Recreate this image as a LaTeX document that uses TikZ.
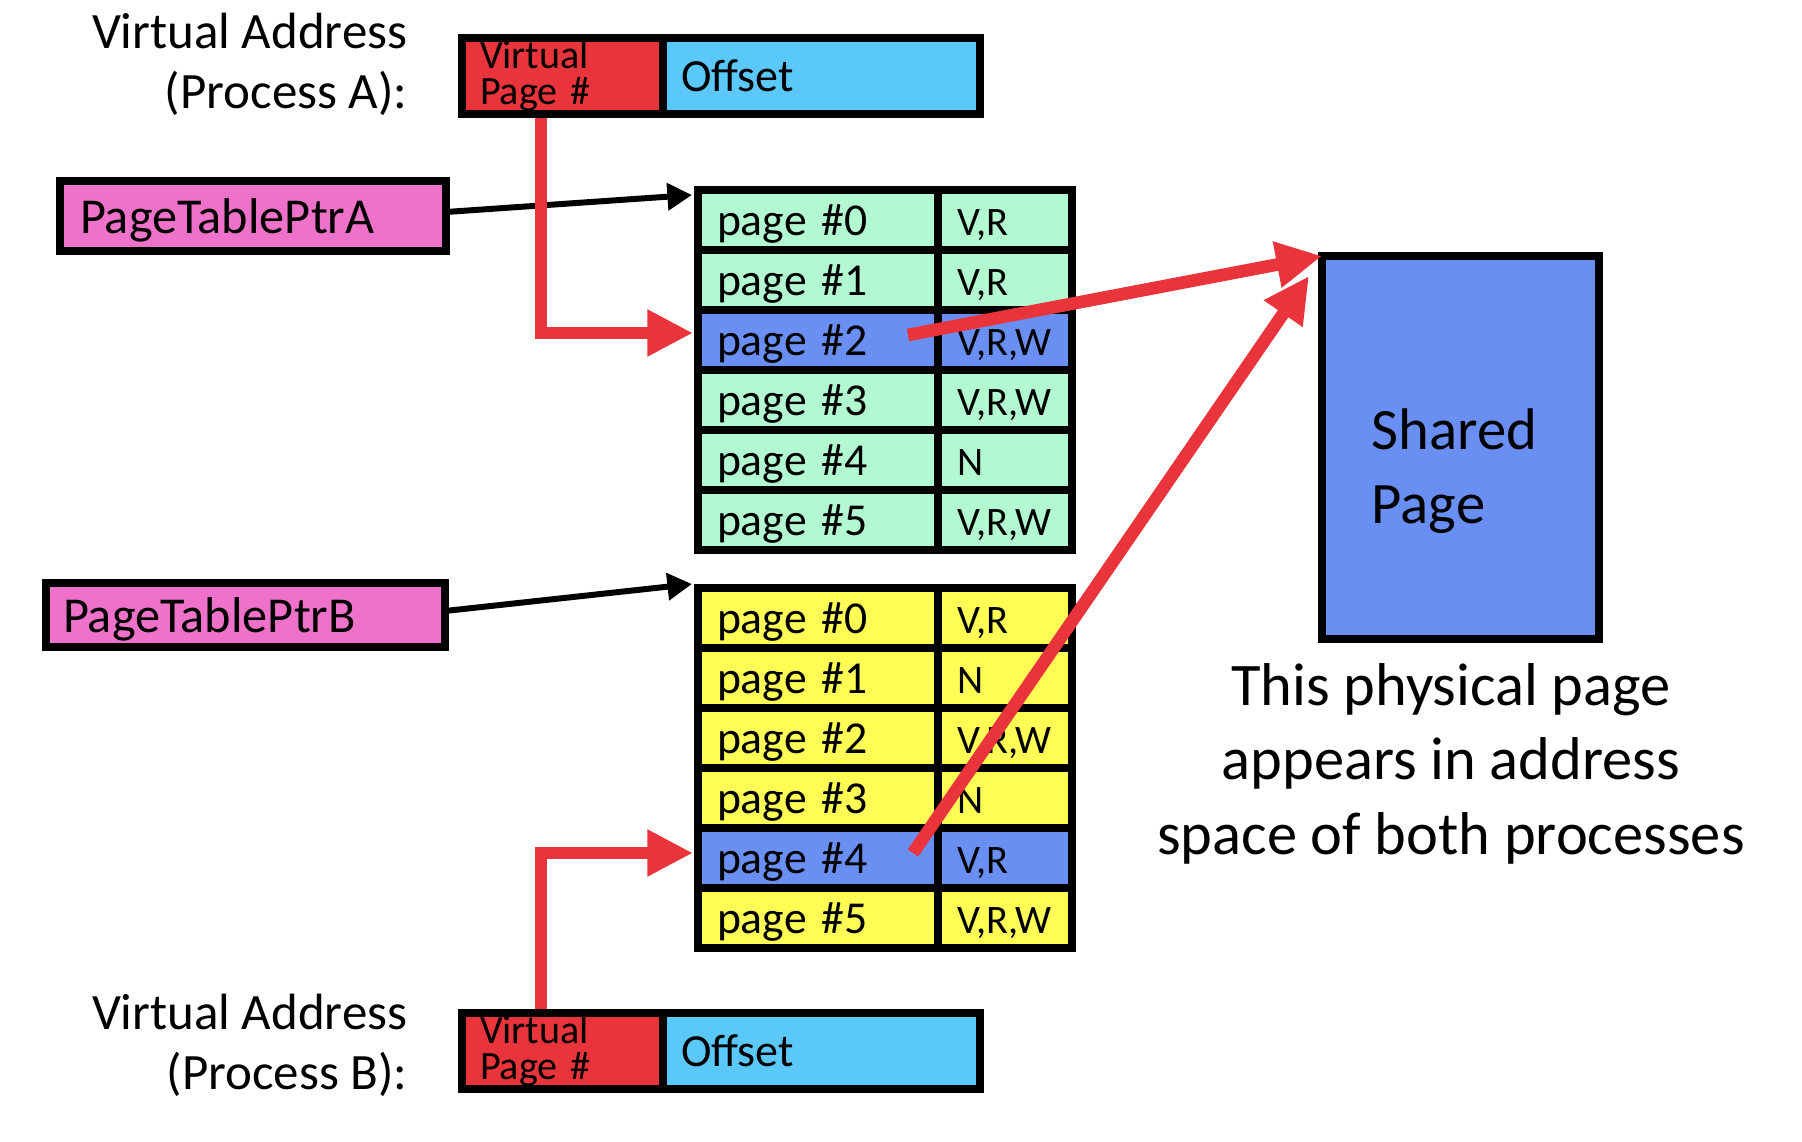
\documentclass[tikz,border=0pt]{standalone}
\usepackage{fontspec}
\setmainfont{Carlito}
\usetikzlibrary{arrows.meta}

\definecolor{vared}{RGB}{232,52,58}
\definecolor{offblue}{RGB}{91,200,250}
\definecolor{ptrpink}{RGB}{238,114,201}
\definecolor{mint}{RGB}{178,249,210}
\definecolor{lemon}{RGB}{255,253,85}
\definecolor{hilite}{RGB}{106,143,242}

\begin{document}
\begin{tikzpicture}[x=0.1mm,y=-0.1mm,
	box/.style={draw,line width=2.1pt,inner sep=0pt,outer sep=0pt},
	cell/.style={box,line width=2pt,minimum height=6mm,align=left,inner xsep=1.9mm,text height=3.5mm,text depth=0.5mm},
	pagecell/.style={cell,minimum width=24mm,text width=20.2mm,font=\fontsize{13}{15}\selectfont},
	flagcell/.style={cell,minimum width=13.4mm,text width=9.6mm,font=\fontsize{11.5}{13}\selectfont},
	ptrbox/.style={box,fill=ptrpink,align=left,text height=4mm,text depth=0.5mm,font=\fontsize{14.3}{17}\selectfont},
	label/.style={inner sep=0pt},
	redarrow/.style={draw=vared,line width=3.6pt,-{Triangle[length=13pt,width=12.5pt]}},
	ptrarrow/.style={line width=1.7pt,-{Triangle[length=7pt,width=7.5pt]}}]
	\useasboundingbox (0,0) rectangle (1802,1142);

	% virtual addresses
	\node[label,anchor=east,align=right,font=\fontsize{14.5}{17}\selectfont] (vaa) at (408,64) {Virtual Address\\(Process A):};
	\node[box,fill=vared,minimum width=20.1mm,minimum height=7.6mm,text width=16.5mm,inner xsep=1.8mm,align=left,font=\fontsize{11.4}{10}\selectfont] (vpa) at (562.5,76) {Virtual\\Page \#};
	\node[box,fill=offblue,anchor=west,minimum width=31.7mm,minimum height=7.6mm,text width=28.1mm,inner xsep=1.8mm,align=left,font=\fontsize{13.1}{15}\selectfont] (offa) at (vpa.east) {Offset};

	\node[label,anchor=east,align=right,font=\fontsize{14.5}{17}\selectfont] (vab) at (408,1045) {Virtual Address\\(Process B):};
	\node[box,fill=vared,minimum width=20.1mm,minimum height=7.6mm,text width=16.5mm,inner xsep=1.8mm,align=left,font=\fontsize{11.4}{10}\selectfont] (vpb) at (562.5,1051) {Virtual\\Page \#};
	\node[box,fill=offblue,anchor=west,minimum width=31.7mm,minimum height=7.6mm,text width=28.1mm,inner xsep=1.8mm,align=left,font=\fontsize{13.1}{15}\selectfont] (offb) at (vpb.east) {Offset};

	% page table pointers
	\node[ptrbox,minimum width=38.6mm,minimum height=7mm,text width=34.6mm,inner xsep=2mm] (pta) at (253,216) {PageTablePtrA};
	\node[ptrbox,minimum width=39.9mm,minimum height=6.4mm,text width=36.5mm,inner xsep=1.7mm] (ptb) at (245.5,615) {PageTablePtrB};

	% page tables
	\foreach \i/\f/\col in {0/{V,R}/mint,1/{V,R}/mint,2/{V,R,W}/hilite,3/{V,R,W}/mint,4/N/mint,5/{V,R,W}/mint}{
		\node[pagecell,fill=\col] (pa\i) at (818,220+60*\i) {page \#\i};
		\node[flagcell,fill=\col] (fa\i) at (1005,220+60*\i) {\f};
	}
	\foreach \i/\f/\col in {0/{V,R}/lemon,1/N/lemon,2/{V,R,W}/lemon,3/N/lemon,4/{V,R}/hilite,5/{V,R,W}/lemon}{
		\node[pagecell,fill=\col] (pb\i) at (818,618+60*\i) {page \#\i};
		\node[flagcell,fill=\col] (fb\i) at (1005,618+60*\i) {\f};
	}

	% shared physical page
	\node[box,fill=hilite,minimum width=27.7mm,minimum height=38.3mm] (shared) at (1460.5,447.5) {};
	\node[label,anchor=west,align=left,font=\fontsize{16.7}{21}\selectfont] (sharedtxt) at (1371,471.5) {Shared\\Page};
	\node[label,align=center,font=\fontsize{17.2}{21.2}\selectfont] (note) at (1451,763.5) {This physical page\\appears in address\\space of both processes};

	\draw[ptrarrow] ([yshift=0.4mm]pta.east) -- ([xshift=-0.6mm,yshift=-0.5mm]pa0.north west);
	\draw[ptrarrow] ([yshift=0.4mm]ptb.east) -- ([xshift=-0.6mm,yshift=0.4mm]pb0.north west);
	\draw[redarrow] ([xshift=-2.15mm,yshift=-0.4mm]vpa.south) |- ([xshift=-0.5mm,yshift=0.7mm]pa2.west);
	\draw[redarrow] ([xshift=-2.15mm,yshift=0.4mm]vpb.north) |- ([xshift=-0.5mm,yshift=0.5mm]pb4.west);
	\draw[redarrow] ([xshift=9mm,yshift=0.5mm]pa2.center) -- (shared.north west);
	\draw[redarrow] ([xshift=9.5mm,yshift=0.5mm]pb4.center) -- ([xshift=-1.3mm,yshift=-2mm]shared.north west);
\end{tikzpicture}
\end{document}
